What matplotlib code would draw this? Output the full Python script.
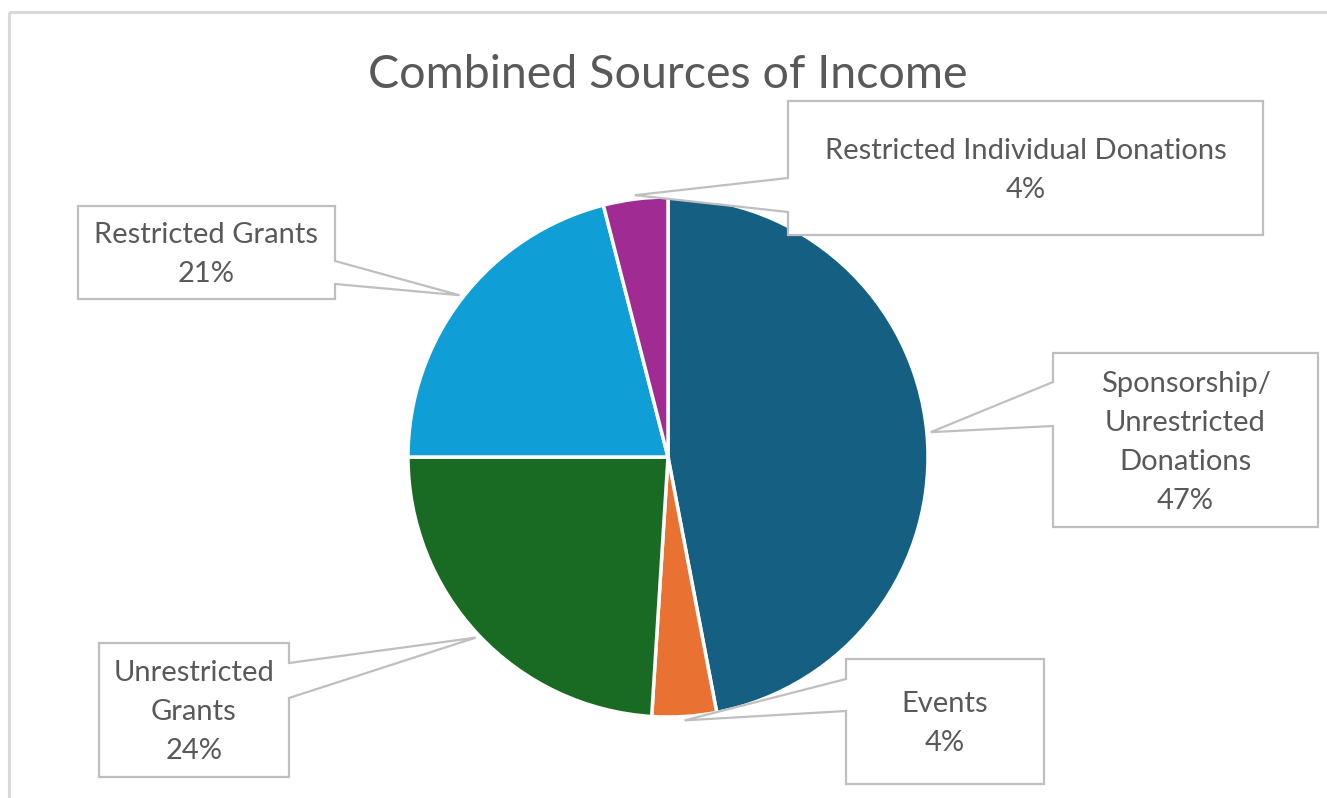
import matplotlib
matplotlib.use("Agg")
import matplotlib.pyplot as plt
from matplotlib.patches import Polygon, Rectangle
import numpy as np

# ---- data ----
categories = [
    "Sponsorship/\nUnrestricted\nDonations",
    "Events",
    "Unrestricted\nGrants",
    "Restricted Grants",
    "Restricted Individual Donations",
]
shares = [47, 4, 24, 21, 4]
colors = ["#156082", "#E97132", "#196B24", "#0F9ED5", "#A02B93"]
title = "Combined Sources of Income"

# ---- layout (pixel coordinates, y grows downward) ----
W, H = 1327, 798
CX, CY, R = 668, 457, 260
# callout boxes: (left, top, right, bottom), side holding the pointer, pointer span on that side
boxes = [
    ((1053, 353, 1318, 527), "left", (382, 426)),
    ((846, 659, 1044, 784), "left", (679, 711)),
    ((99, 643, 289, 777), "right", (663, 698)),
    ((78, 206, 335, 299), "right", (261, 284)),
    ((788, 101, 1263, 235), "left", (178, 212)),
]

TEXT = "#595959"
EDGE = "#BFBFBF"
FONT = "Lato"
LABEL_PT = 21
TITLE_PT = 33.5
LINE_GAP = 39  # px between label lines

plt.rcParams["font.family"] = [FONT, "DejaVu Sans"]

fig = plt.figure(figsize=(W / 100, H / 100), dpi=100)
ax = fig.add_axes([0, 0, 1, 1])

wedges, _ = ax.pie(
    shares,
    colors=colors,
    startangle=-90,
    counterclock=True,
    center=(CX, CY),
    radius=R,
    frame=True,
    wedgeprops=dict(edgecolor="white", linewidth=2.5),
)

ax.set_xlim(0, W)
ax.set_ylim(H, 0)
ax.set_aspect("auto")
ax.axis("off")

# chart area border
ax.add_patch(Rectangle((8.5, 11.5), W + 50, H + 50, fill=False,
                       edgecolor="#D9D9D9", linewidth=2.2, zorder=0))

ax.text(CX, 88, title, ha="center", va="baseline", fontsize=TITLE_PT,
        color=TEXT, zorder=5)

px_per_pt = 100 / 72
cap_half = 0.7165 * LABEL_PT * px_per_pt / 2

for wedge, cat, val, (box, side, (y1, y2)) in zip(wedges, categories, shares, boxes):
    mid = np.deg2rad((wedge.theta1 + wedge.theta2) / 2)
    tip = (CX + 1.015 * R * np.cos(mid), CY + 1.015 * R * np.sin(mid))
    l, t, r, b = box
    if side == "left":
        verts = [(l, t), (r, t), (r, b), (l, b), (l, y2), tip, (l, y1)]
    else:
        verts = [(l, t), (r, t), (r, y1), tip, (r, y2), (r, b), (l, b)]
    ax.add_patch(Polygon(verts, closed=True, facecolor="white", edgecolor=EDGE,
                         linewidth=1.6, joinstyle="miter", zorder=3))

    lines = cat.split("\n") + [f"{val}%"]
    n = len(lines)
    bx = (l + r) / 2
    by = (t + b) / 2
    for i, line in enumerate(lines):
        yc = by + (i - (n - 1) / 2) * LINE_GAP
        ax.text(bx, yc + cap_half, line, ha="center", va="baseline",
                fontsize=LABEL_PT, color=TEXT, zorder=4)

fig.savefig("out.png", dpi=100, facecolor="white")
